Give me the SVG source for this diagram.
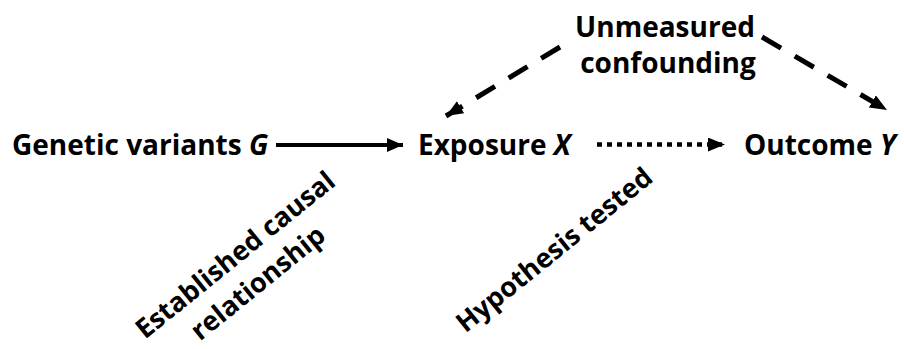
<svg xmlns="http://www.w3.org/2000/svg" width="904" height="349" viewBox="0 0 904 349">
<style>
text{font-family:"Open Sans",Lato,"Liberation Sans",sans-serif;font-weight:bold;font-size:28px;fill:#000;font-variant-ligatures:none}
.rot{font-size:27px}
.it{font-style:italic}
.ln{stroke:#000;fill:none}
</style>
<defs>
<marker id="ah" markerUnits="userSpaceOnUse" markerWidth="18" markerHeight="16" refX="16" refY="7" orient="auto"><path d="M0,0L16,7L0,14Z" fill="#000"/></marker>
<marker id="ah2" markerUnits="userSpaceOnUse" markerWidth="18" markerHeight="16" refX="17" refY="7" orient="auto"><path d="M0,0L17,7L0,14Z" fill="#000"/></marker>
</defs>
<rect width="904" height="349" fill="#fff"/>
<g id="connectors">
<line class="ln" x1="276" y1="145" x2="403" y2="145" stroke-width="4" marker-end="url(#ah)"/>
<line class="ln" x1="597" y1="144.5" x2="725" y2="144.5" stroke-width="4.5" stroke-dasharray="5 5" marker-end="url(#ah2)"/>
<line class="ln" x1="560" y1="47" x2="446" y2="116" stroke-width="5" stroke-dasharray="22 16" marker-end="url(#ah2)"/>
<line class="ln" x1="762" y1="37" x2="887" y2="110" stroke-width="5" stroke-dasharray="22 16" marker-end="url(#ah2)"/>
</g>
<g id="node-G"><text x="12" y="155">Genetic variants <tspan class="it">G</tspan></text></g>
<g id="node-X"><text x="418" y="155">Exposure <tspan class="it">X</tspan></text></g>
<g id="node-Y"><text x="744" y="155">Outcome <tspan class="it">Y</tspan></text></g>
<g id="node-U"><text x="665" y="37" text-anchor="middle">Unmeasured</text><text x="668" y="73" text-anchor="middle">confounding</text></g>
<g id="label-established" transform="translate(241,262) rotate(-39)"><text class="rot" x="0" y="0" text-anchor="middle">Established causal</text><text class="rot" x="0" y="36" text-anchor="middle">relationship</text></g>
<g id="label-hypothesis" transform="translate(560,257) rotate(-39)"><text class="rot" x="0" y="0" text-anchor="middle">Hypothesis tested</text></g>
</svg>
